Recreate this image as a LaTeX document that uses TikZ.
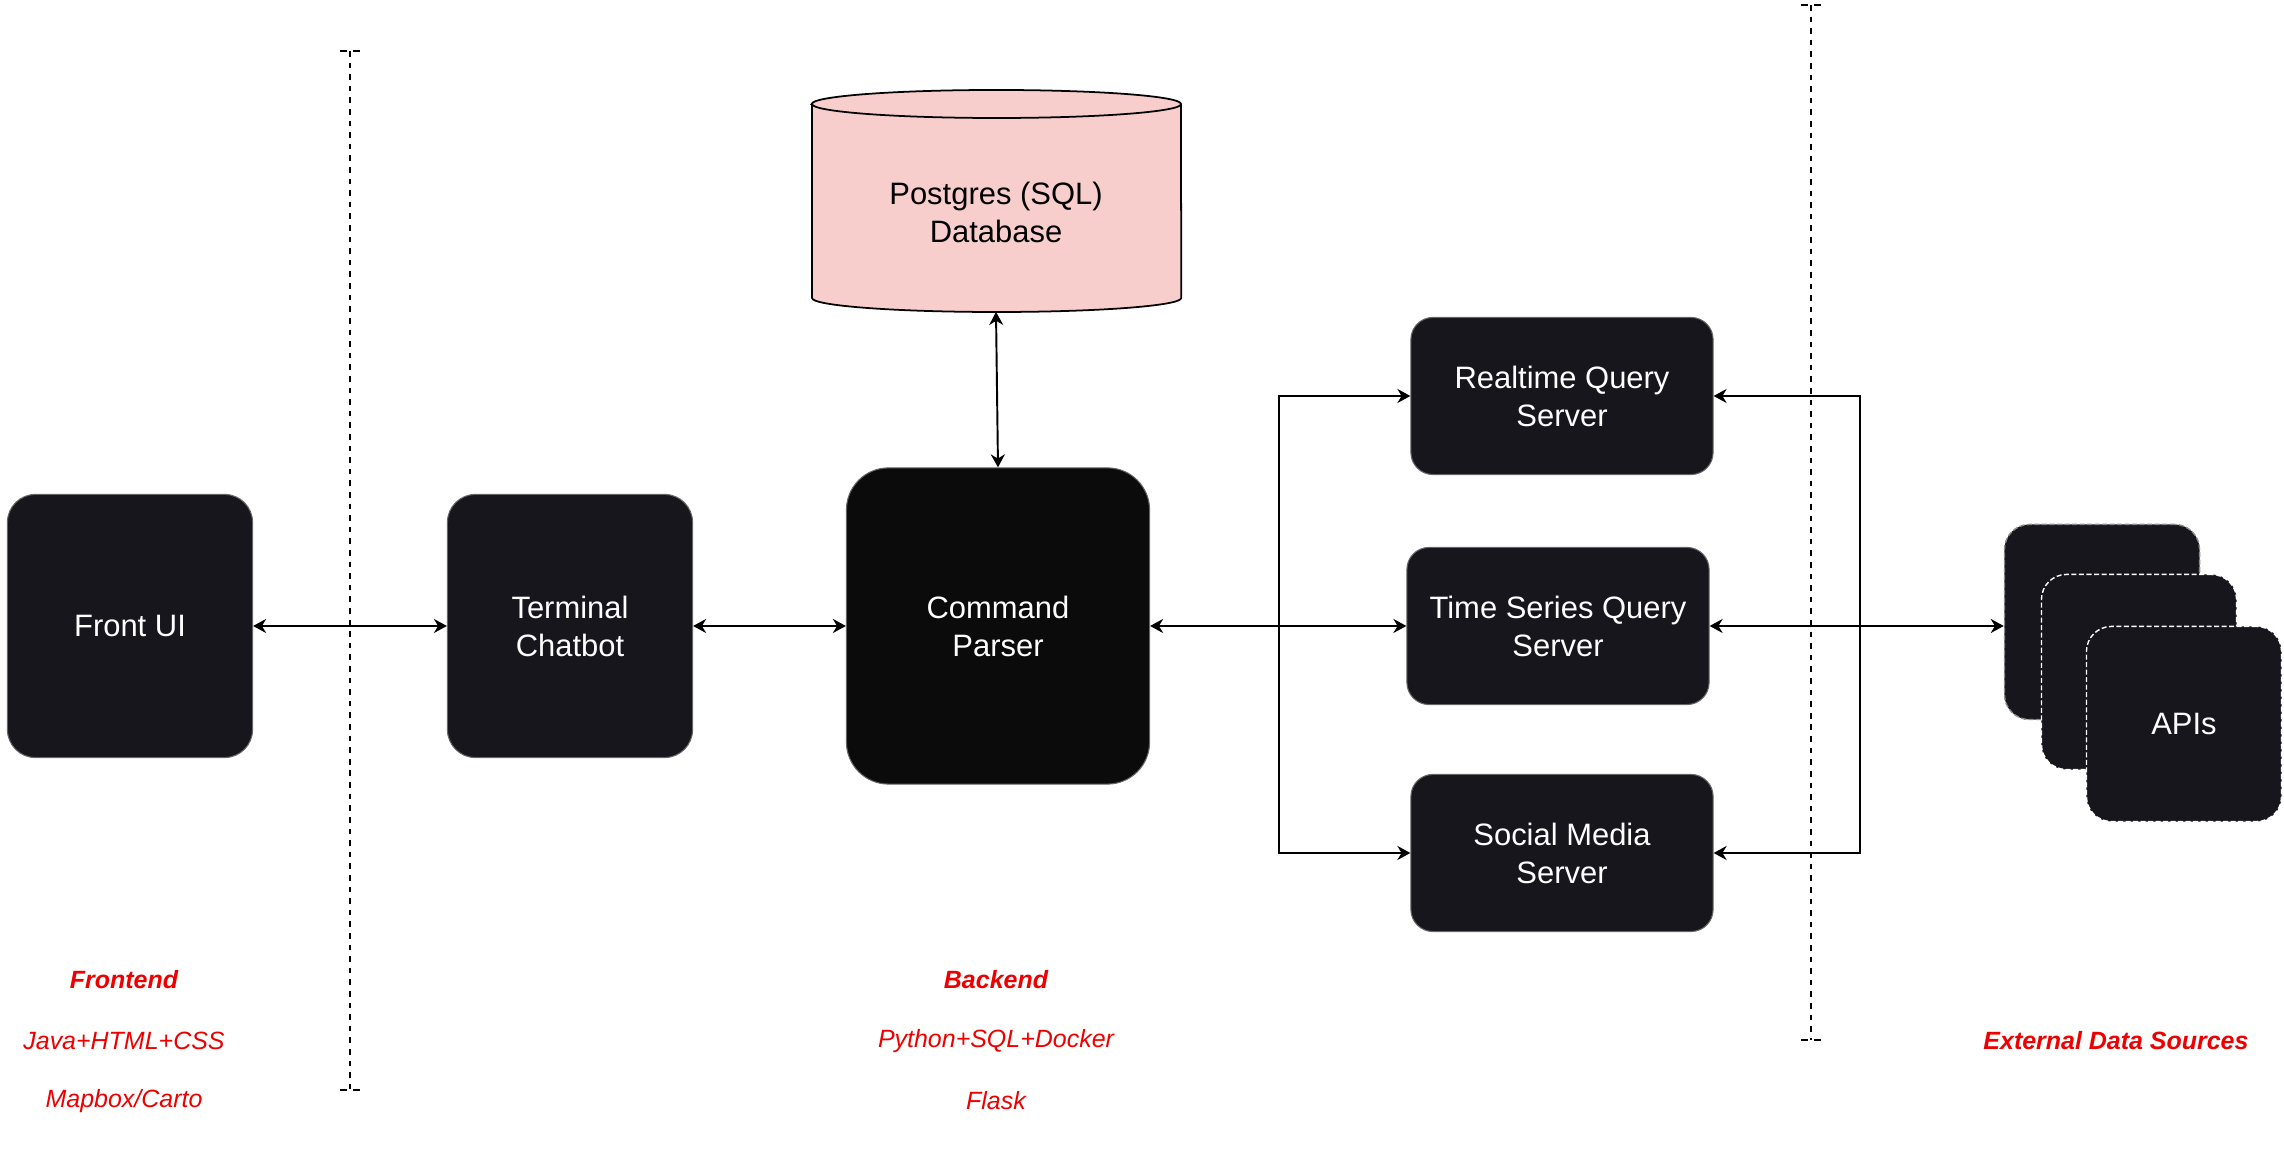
\documentclass[tikz,border=0pt]{standalone}
\usepackage{fontspec}
\setmainfont{Liberation Sans}
\usetikzlibrary{arrows.meta}
\definecolor{boxdark}{HTML}{18161D}
\definecolor{parserblack}{HTML}{0B0B0B}
\definecolor{dbpink}{HTML}{F8CECC}
\definecolor{noteRed}{HTML}{EE0000}
\begin{document}
\begin{tikzpicture}[x=0.01cm, y=-0.01cm,
    >={Stealth[length=3.7pt, width=4pt, inset=1.2pt]},
    box/.style={draw=black!60, line width=0.3pt, fill=boxdark, rounded corners=0.28cm,
        text=white, align=center, inner sep=0pt, font=\fontsize{8.8}{10.8}\selectfont},
    server/.style={box, rounded corners=0.22cm, minimum width=3.02cm, minimum height=1.57cm},
    apibox/.style={box, rounded corners=0.25cm, minimum width=1.95cm, minimum height=1.95cm,
        line width=0.4pt, dash pattern=on 0.05cm off 0.025cm},
    link/.style={line width=0.55pt},
    sep/.style={line width=0.6pt, dash pattern=on 1.6pt off 1.7pt},
    tee/.style={line width=0.6pt, dash pattern=on 0.07cm off 0.06cm},
    note/.style={text=noteRed, font=\fontsize{7.1}{8.5}\selectfont\itshape},
    notehead/.style={note, font=\fontsize{7.1}{8.5}\selectfont\bfseries\itshape}]
    \useasboundingbox (0,0) rectangle (2284,1174);
    % separators
    \draw[sep] (350,51) -- (350,1090);
    \draw[tee] (340,51) -- (360,51);
    \draw[tee] (340,1090) -- (360,1090);
    \draw[sep] (1811,5) -- (1811,1040);
    \draw[tee] (1801,5) -- (1821,5);
    \draw[tee] (1801,1040) -- (1821,1040);
    % database
    \draw[fill=dbpink, line width=0.5pt] (812,104) -- (812,298)
        arc[start angle=180, end angle=360, x radius=1.845cm, y radius=0.14cm] -- (1181,104)
        arc[start angle=0, end angle=180, x radius=1.845cm, y radius=0.14cm] -- cycle;
    \draw[line width=0.5pt] (812,104) arc[start angle=180, end angle=360, x radius=1.845cm, y radius=0.14cm];
    \node[align=center, font=\fontsize{8.8}{10.8}\selectfont] (db) at (996,212) {Postgres (SQL)\\Database};
    \coordinate (dbbot) at (996,312);
    % boxes
    \node[box, minimum width=2.45cm, minimum height=2.63cm] (frontui) at (130,626) {Front UI};
    \node[box, minimum width=2.45cm, minimum height=2.63cm] (chatbot) at (570,626) {Terminal\\Chatbot};
    \node[box, fill=parserblack, rounded corners=0.42cm, minimum width=3.03cm, minimum height=3.16cm] (parser) at (998,626) {Command\\Parser};
    \node[server] (rtq) at (1562,396) {Realtime Query\\Server};
    \node[server] (tsq) at (1558,626) {Time Series Query\\Server};
    \node[server] (smq) at (1562,853) {Social Media\\Server};
    \node[apibox, draw=black!45] (api1) at (2102,622) {};
    \node[apibox, draw=white] (api2) at (2139,672) {};
    \node[apibox, draw=white] (api3) at (2184,724) {APIs};
    % connectors
    \draw[link, <->] (frontui) -- (chatbot);
    \draw[link, <->] (chatbot) -- (parser);
    \draw[link, <->] (dbbot) -- (parser.north);
    \coordinate (forkl) at (1279,626);
    \coordinate (forkr) at (1860,626);
    \draw[link, <->] (parser) -- (tsq);
    \draw[link, ->] (forkl) |- (rtq.west);
    \draw[link, ->] (forkl) |- (smq.west);
    \draw[link, <->] (tsq.east) -- (api1.west |- tsq.east);
    \draw[link, ->] (forkr) |- (rtq.east);
    \draw[link, ->] (forkr) |- (smq.east);
    % labels
    \node[notehead] (fe) at (124,980) {Frontend};
    \node[note] (fe1) at (124,1041) {Java+HTML+CSS};
    \node[note] (fe2) at (124,1101) {Mapbox/Carto};
    \node[notehead] (be) at (996,980) {Backend};
    \node[note] (be1) at (996,1041) {Python+SQL+Docker};
    \node[note] (be2) at (996,1101) {Flask};
    \node[notehead] (ext) at (2116,1041) {External Data Sources};
\end{tikzpicture}
\end{document}
